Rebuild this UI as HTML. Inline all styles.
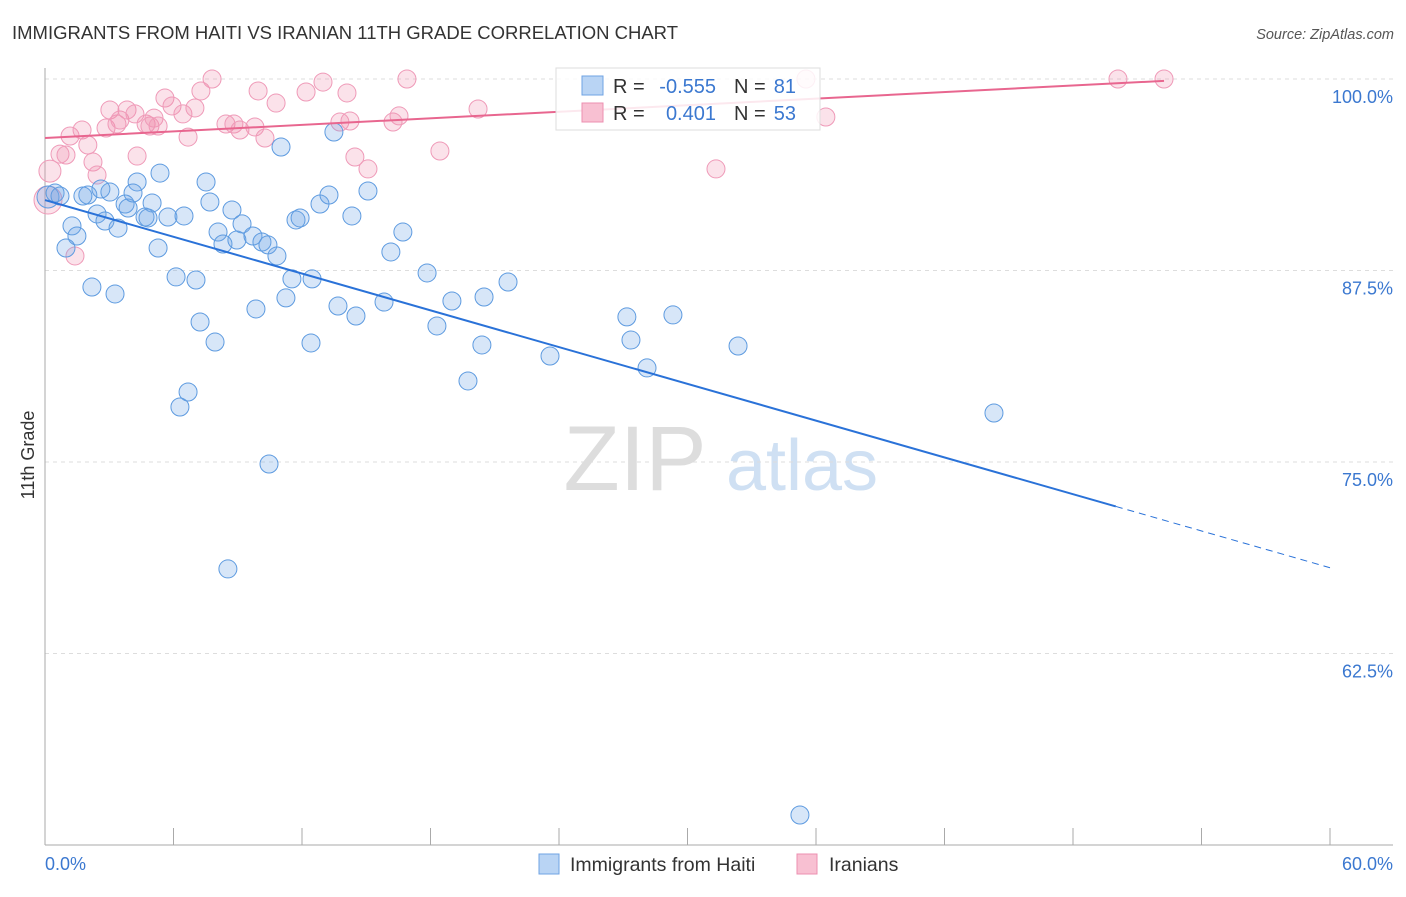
<!DOCTYPE html>
<html><head><meta charset="utf-8"><style>
body{margin:0;background:#fff;font-family:"Liberation Sans",sans-serif}
svg text{font-family:"Liberation Sans",sans-serif}
</style></head><body>
<svg width="1406" height="892" xmlns="http://www.w3.org/2000/svg">
<text x="12" y="39" font-size="18.5" fill="#333" textLength="666">IMMIGRANTS FROM HAITI VS IRANIAN 11TH GRADE CORRELATION CHART</text>
<text x="1394" y="39" font-size="14.5" fill="#555" text-anchor="end" font-style="italic">Source: ZipAtlas.com</text>
<text x="34" y="455" font-size="18" fill="#333" text-anchor="middle" transform="rotate(-90 34 455)">11th Grade</text>
<g><text x="635" y="490" font-size="92" fill="#ddd" text-anchor="middle" font-family="Liberation Serif">ZIP</text><text x="802" y="490" font-size="72" fill="#cfe0f3" text-anchor="middle">atlas</text></g>
<g id="grid"></g><g id="pts"></g><g id="lines"></g>
<g>
<rect x="556" y="68" width="264" height="62" fill="#fff" fill-opacity="0.85" stroke="#ddd"/>
<rect x="582" y="76" width="21" height="19" fill="#b9d4f4" stroke="#6fa3e3"/>
<rect x="582" y="103" width="21" height="19" fill="#f8c0d2" stroke="#ec8fb0"/>
<text x="613" y="93" font-size="20" fill="#333">R =</text>
<text x="716" y="93" font-size="20" fill="#3b78d0" text-anchor="end">-0.555</text>
<text x="734" y="93" font-size="20" fill="#333">N =</text>
<text x="796" y="93" font-size="20" fill="#3b78d0" text-anchor="end">81</text>
<text x="613" y="120" font-size="20" fill="#333">R =</text>
<text x="716" y="120" font-size="20" fill="#3b78d0" text-anchor="end">0.401</text>
<text x="734" y="120" font-size="20" fill="#333">N =</text>
<text x="796" y="120" font-size="20" fill="#3b78d0" text-anchor="end">53</text>
</g>
<g>
<rect x="539" y="854" width="20" height="20" fill="#b9d4f4" stroke="#6fa3e3"/>
<text x="570" y="871" font-size="19.5" fill="#333">Immigrants from Haiti</text>
<rect x="797" y="854" width="20" height="20" fill="#f8c0d2" stroke="#ec8fb0"/>
<text x="829" y="871" font-size="19.5" fill="#333">Iranians</text>
</g>
</svg>
<script>
const xTicks=[0,6,12,18,24,30,36,42,48,54,60];
const yTicks=[62.5,75,87.5,100];
const yTickLabels=["62.5%","75.0%","87.5%","100.0%"];
const haitiX=[0.14,0.47,0.70,2.0,2.61,3.03,1.77,1.26,1.49,0.98,2.43,2.80,3.41,3.74,3.88,4.30,4.11,5.0,4.67,4.81,5.37,5.74,6.49,5.28,6.12,7.05,2.19,3.27,7.52,7.70,8.73,8.08,8.31,8.96,9.20,9.71,10.13,10.41,10.83,11.02,11.72,11.91,11.53,12.47,11.25,9.85,7.24,7.94,12.42,13.68,14.52,15.83,12.84,13.26,14.33,15.08,13.49,16.15,16.71,17.84,19.0,20.5,21.62,18.30,20.40,19.75,23.58,27.17,27.36,28.11,29.32,32.36,44.31,6.68,6.30,10.46,8.54,35.25];
const haitiY=[92.3,92.56,92.36,92.43,92.82,92.62,92.36,90.41,89.75,88.97,91.19,90.73,90.27,91.84,91.58,93.28,92.56,91.91,90.99,90.93,93.86,90.99,91.06,88.97,87.08,86.88,86.42,85.97,93.28,91.97,91.45,90.01,89.23,89.49,90.54,89.75,89.36,89.17,88.45,95.56,90.80,90.93,86.95,86.95,85.71,84.99,84.14,82.83,82.77,85.18,84.53,85.44,91.84,92.43,91.06,92.69,96.54,88.71,90.01,87.34,85.51,85.77,86.75,83.88,82.64,80.29,81.92,84.47,82.96,81.14,84.60,82.57,78.20,79.57,78.59,74.87,68.02,51.96];
const iranX=[0.14,0.23,0.70,0.98,1.17,1.73,2.0,2.24,2.43,1.40,2.85,3.03,3.36,3.50,3.83,4.30,4.20,4.72,4.90,5.09,5.28,5.60,5.93,6.44,6.68,7.0,7.28,7.80,8.45,8.82,9.10,9.80,9.95,10.27,10.79,12.19,12.98,14.10,13.77,14.24,14.47,15.08,16.25,16.53,16.90,18.44,20.22,31.33,35.53,36.46,50.10,52.25];
const iranY=[92.1,93.99,95.10,95.04,96.28,96.67,95.69,94.58,93.73,88.45,96.80,97.98,97.06,97.32,97.98,94.97,97.72,97.06,96.93,97.45,96.93,98.76,98.24,97.72,96.21,98.11,99.22,100.0,97.06,97.06,96.67,96.87,99.22,96.15,98.43,99.15,99.80,99.09,97.19,97.26,94.91,94.13,97.19,97.59,100.0,95.30,98.04,94.13,100.0,97.52,100.0,100.0];
const haitiTrend=[92.1,68.1];
const iranTrend=[96.15,100.43];
const X=v=>45+v/60*1285, Y=v=>845-(v-50)/50*766;
const NS="http://www.w3.org/2000/svg";
function mk(t,a,p){const e=document.createElementNS(NS,t);for(const k in a)e.setAttribute(k,a[k]);p.appendChild(e);return e;}
const grid=document.getElementById('grid');
yTicks.forEach((v,i)=>{
 const l=mk('line',{x1:45,x2:1393,y1:Y(v),y2:Y(v),stroke:'#ddd','stroke-dasharray':'4,4'},grid);
 
 
 const t=mk('text',{x:1393,y:Y(v)+24,'font-size':18,fill:'#3b78d0','text-anchor':'end'},grid);
 t.textContent=yTickLabels[i];
 
 
});
const ax=mk('line',{x1:45,x2:45,y1:68,y2:845,stroke:'#aaa'},grid);


const bx=mk('line',{x1:45,x2:1393,y1:845,y2:845,stroke:'#aaa'},grid);


xTicks.forEach(v=>{
 const l=mk('line',{x1:X(v),x2:X(v),y1:828,y2:845,stroke:'#aaa'},grid);
 
 
});
[[0,'start','0.0%'],[60,'end','60.0%']].forEach(a=>{
 const t=mk('text',{x:X(a[0])+(a[0]?63:0),y:870,'font-size':18,fill:'#3b78d0','text-anchor':a[1]},grid);
 t.textContent=a[2];
 
 
});
const pts=document.getElementById('pts');
iranX.forEach((v,i)=>{
 const c=mk('circle',{cx:X(v),cy:Y(iranY[i]),r:i==0?14:(i==1?11:9),fill:'rgba(240,140,170,0.25)',stroke:'#ef9ab8','stroke-width':1},pts);
 
 
});
haitiX.forEach((v,i)=>{
 const c=mk('circle',{cx:X(v),cy:Y(haitiY[i]),r:i==0?11:9,fill:'rgba(110,165,230,0.28)',stroke:'#5e9be0','stroke-width':1},pts);
 
 
});
const lines=document.getElementById('lines');
const hy=v=>haitiTrend[0]+(haitiTrend[1]-haitiTrend[0])*v/60;
let l1=mk('line',{x1:X(0),y1:Y(hy(0)),x2:X(50),y2:Y(hy(50)),stroke:'#2a72d8','stroke-width':2},lines);


let l2=mk('line',{x1:X(50),y1:Y(hy(50)),x2:X(60),y2:Y(hy(60)),stroke:'#2a72d8','stroke-width':1,'stroke-dasharray':'7,5'},lines);


const iy=v=>iranTrend[0]+(iranTrend[1]-iranTrend[0])*v/60;
let l3=mk('line',{x1:X(0),y1:Y(iy(0)),x2:X(52.25),y2:Y(iy(52.25)),stroke:'#e8668f','stroke-width':2},lines);


</script>
</body></html>
